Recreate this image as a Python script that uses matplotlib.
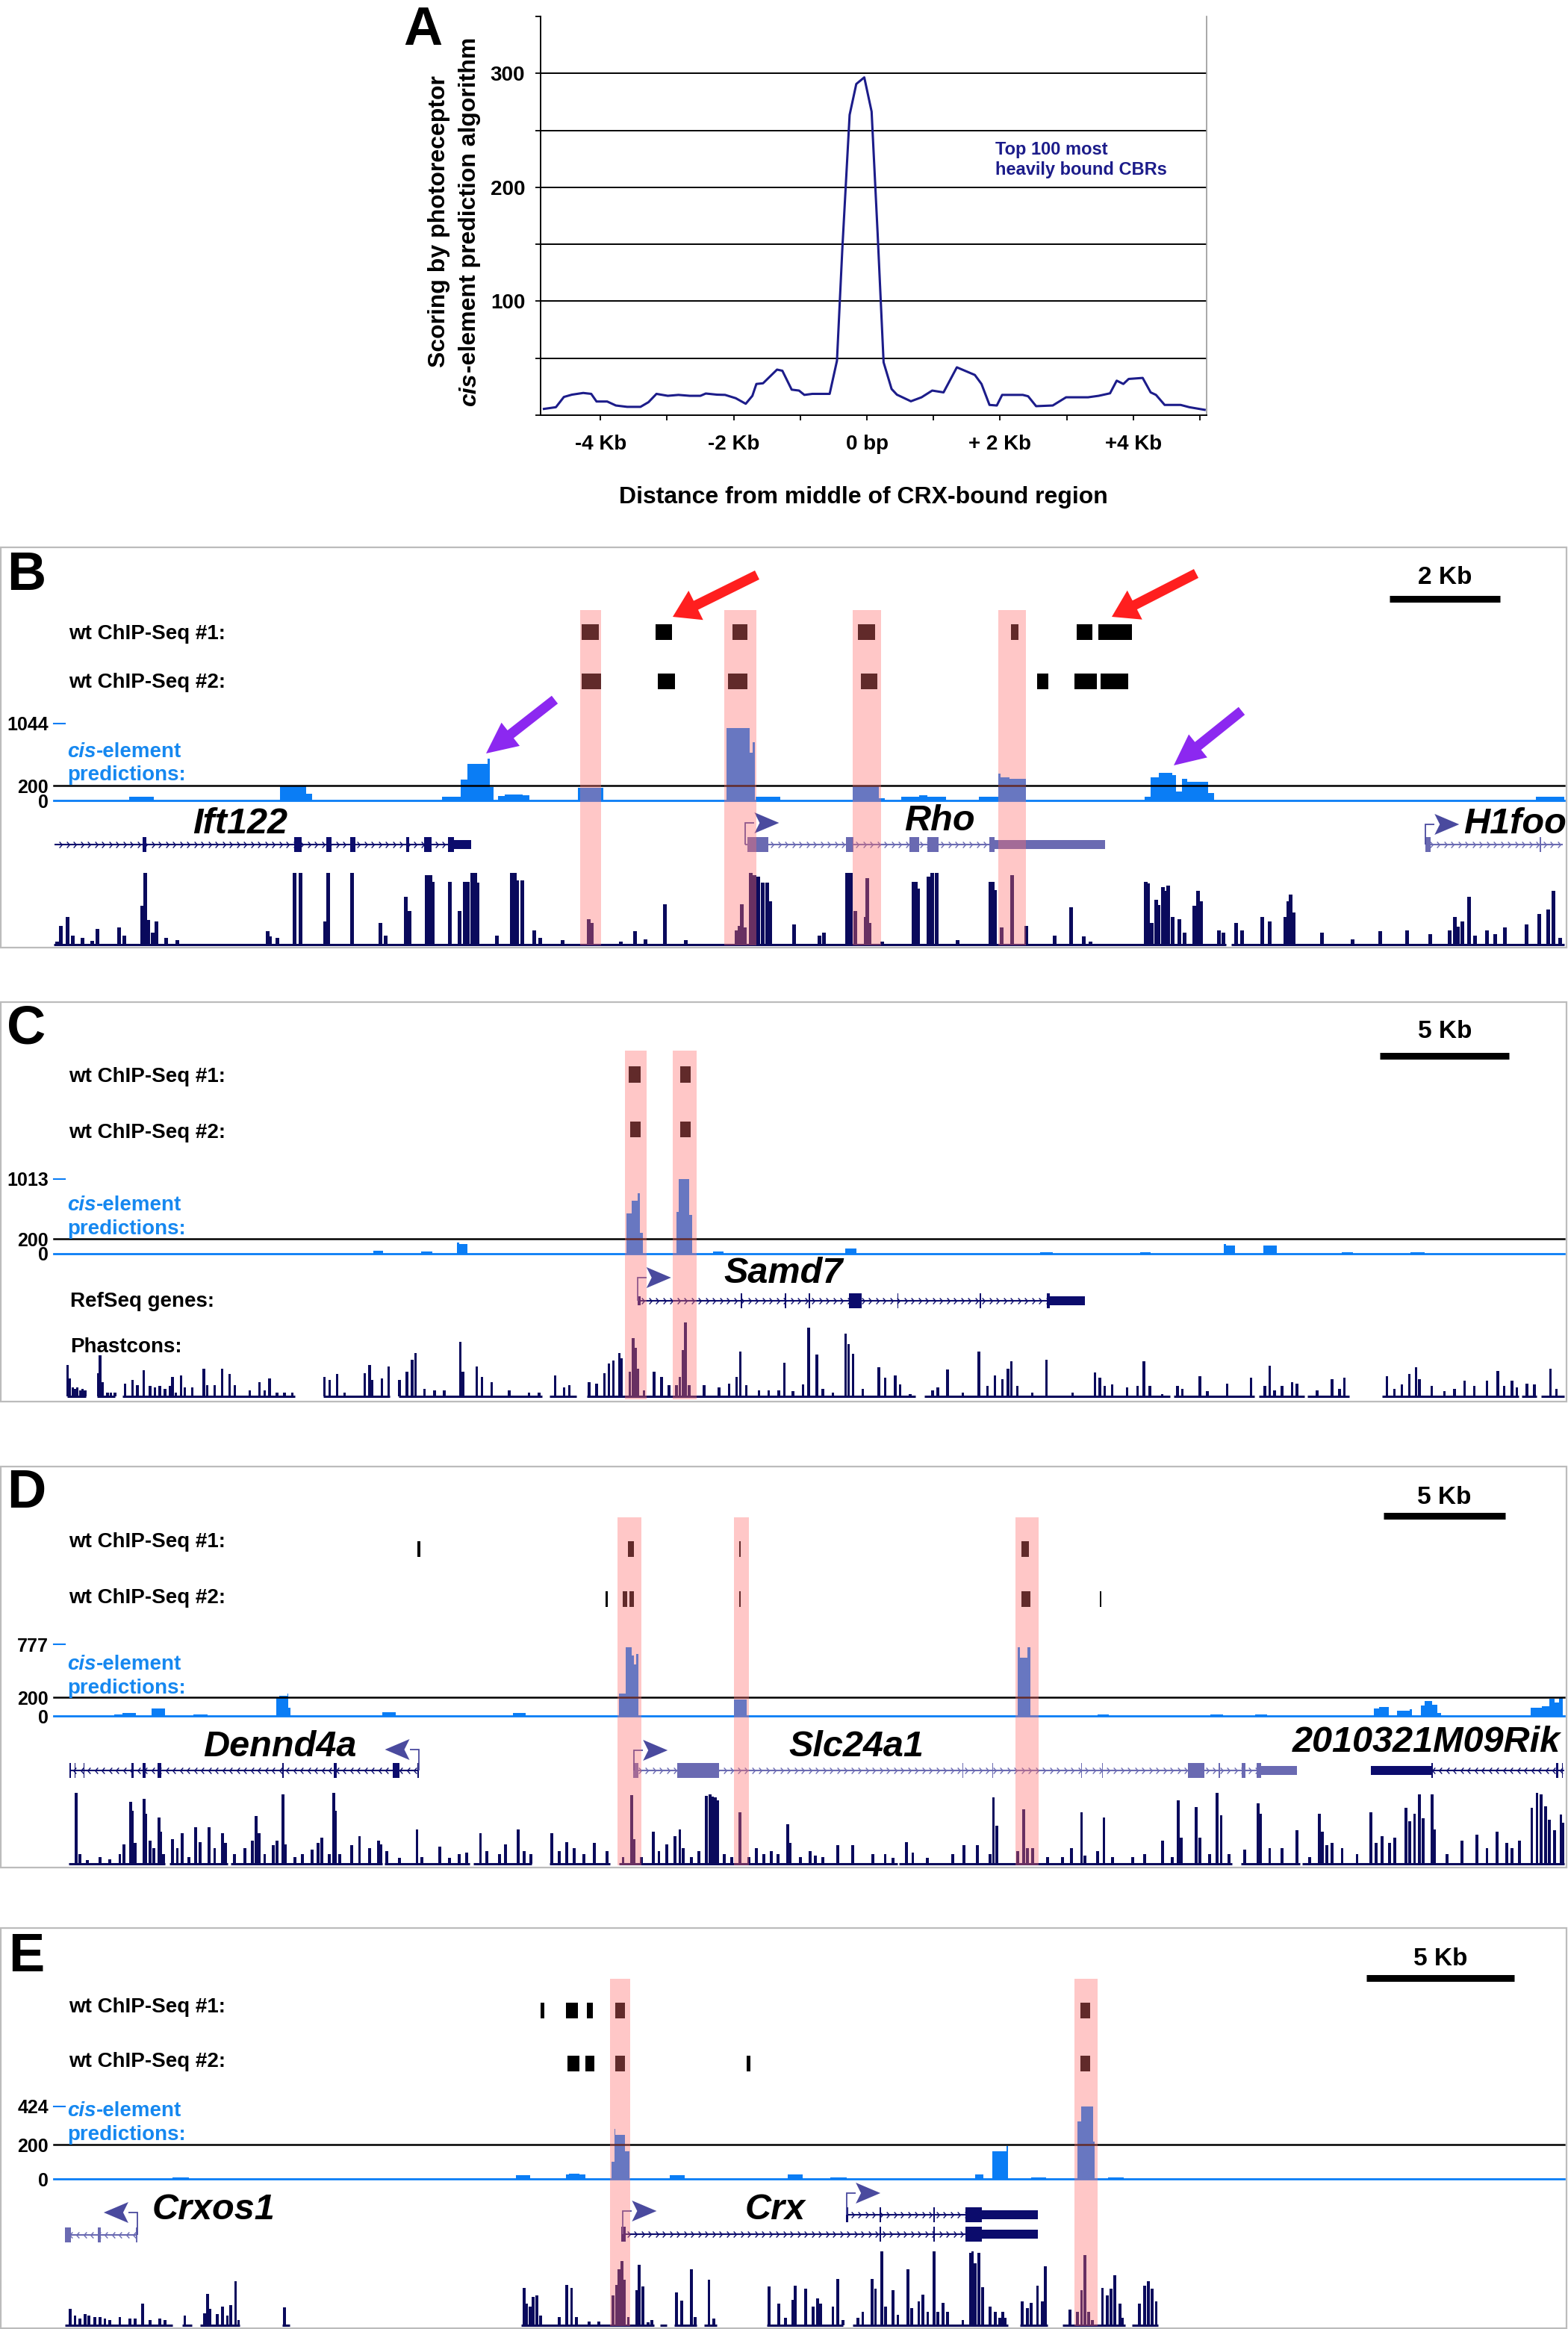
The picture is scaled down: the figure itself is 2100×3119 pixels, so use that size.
import numpy as np
import matplotlib
matplotlib.use("Agg")
import matplotlib.pyplot as plt
from matplotlib.path import Path
from matplotlib.patches import Rectangle, Polygon, FancyArrowPatch

plt.rcParams['font.family'] = ['Liberation Sans', 'DejaVu Sans']
plt.rcParams['font.weight'] = 'bold'
plt.rcParams['axes.unicode_minus'] = False

# ======================= DATA =======================
# ---- Panel A: profile of prediction score around CRX-bound regions ----
A_dist_kb = [-4.85, -4.67, -4.55, -4.43, -4.26, -4.14, -4.06, -3.9, -3.77, -3.6,
             -3.4, -3.28, -3.16, -2.99, -2.83, -2.66, -2.5, -2.42, -2.25, -2.13,
             -1.97, -1.82, -1.72, -1.66, -1.56, -1.35, -1.27, -1.13, -1.02, -0.94,
             -0.82, -0.56, -0.45, -0.37, -0.26, -0.16, -0.04, 0.07, 0.16, 0.25,
             0.37, 0.45, 0.66, 0.82, 0.98, 1.15, 1.35, 1.62, 1.72, 1.84,
             1.95, 2.03, 2.34, 2.42, 2.54, 2.79, 2.99, 3.32, 3.48, 3.65,
             3.75, 3.85, 3.93, 4.14, 4.26, 4.34, 4.47, 4.71, 4.84, 5.07]
A_score = [5.5, 7, 16, 18, 19.5, 18.7, 12, 12, 8.5, 7.3,
           7.3, 11.4, 18.7, 17, 17.8, 17, 17, 19, 18, 17.8,
           14.9, 10, 17, 27.4, 28, 40, 39, 22.4, 21.6, 17.8,
           18.7, 18.7, 47.8, 145.5, 263.6, 290.7, 296.5, 266.5, 160, 46.4,
           23, 18, 12.2, 15.7, 21.6, 20, 42, 35.3, 27.4, 9,
           8.5, 17.8, 17.8, 16.6, 7.9, 8.5, 15.7, 15.7, 17, 19.2,
           30.3, 27.4, 31.8, 32.7, 20, 17.8, 9, 9, 7, 4.7]
A_xtick_pos = [-4, -2, 0, 2, 4]
A_xtick_lab = ['-4 Kb', '-2 Kb', '0 bp', '+ 2 Kb', '+4 Kb']
A_ytick_pos = [100, 200, 300]

# ---- Panel B (kb from left edge of window) ----
B_span_kb = 27.45
B_scale_kb = 2
B_highlight = [(9.57, 9.95), (12.18, 12.77), (14.52, 15.03), (17.17, 17.67)]
B_chip1 = [(9.59, 9.91), (10.93, 11.23), (12.34, 12.60), (14.62, 14.93),
           (17.39, 17.53), (18.59, 18.88), (18.98, 19.59)]
B_chip2 = [(9.59, 9.95), (10.98, 11.29), (12.25, 12.60), (14.67, 14.96),
           (17.87, 18.08), (18.55, 18.95), (19.02, 19.53)]
B_cis_max = 1044
B_cis = [(1.37, 1.82, 53), (4.11, 4.59, 190), (4.59, 4.69, 95), (7.06, 7.40, 53),
         (7.40, 7.52, 280), (7.52, 7.89, 500), (7.89, 7.92, 570), (7.92, 7.99, 180),
         (8.07, 8.19, 60), (8.19, 8.52, 77), (8.52, 8.64, 70), (9.52, 9.99, 168),
         (12.23, 12.64, 983), (12.64, 12.70, 650), (12.70, 12.74, 790), (12.75, 13.20, 46),
         (14.52, 15.00, 193), (15.00, 15.10, 35), (15.40, 15.73, 46), (15.73, 15.87, 70),
         (15.87, 16.22, 46), (16.81, 17.17, 53), (17.17, 17.21, 362), (17.21, 17.37, 316),
         (17.37, 17.67, 291), (19.82, 19.93, 53), (19.93, 20.08, 316), (20.08, 20.32, 375),
         (20.32, 20.40, 340), (20.40, 20.50, 123), (20.50, 20.60, 298), (20.60, 20.98, 256),
         (20.98, 21.08, 105), (26.94, 27.46, 46)]
B_genes = [
    dict(name='Ift122', strand=1, span=(0.02, 7.57),
         exons=[(1.61, 1.68), (4.37, 4.50), (4.95, 5.05), (5.39, 5.48), (6.40, 6.46),
                (6.73, 6.86), (7.17, 7.27)], utr=[(7.27, 7.59)], tss=False),
    dict(name='Rho', strand=1, span=(12.57, 19.10),
         exons=[(12.60, 12.98), (14.39, 14.53), (15.55, 15.73), (15.87, 16.08), (17.00, 17.10)],
         utr=[(17.10, 19.10)], tss=True),
    dict(name='H1foo', strand=1, span=(24.93, 27.42),
         exons=[(24.92, 25.02), (27.00, 27.03)], utr=[], tss=True),
]
B_phast = [
    (0.06, .04), (0.13, .26), (0.25, .39), (0.34, .13), (0.52, .09), (0.70, .05), (0.80, .22),
    (1.19, .24), (1.28, .13), (1.61, .54), (1.66, 1.0), (1.72, .34), (1.80, .17), (1.87, .32),
    (2.04, .09), (2.25, .06), (3.89, .19), (3.93, .11), (4.07, .09), (4.37, 1.0), (4.48, 1.0),
    (4.93, .32), (4.99, 1.0), (5.42, 1.0), (5.93, .30), (6.03, .13), (6.40, .67), (6.46, .47),
    (6.78, .97), (6.84, .97), (6.88, .88), (7.20, .88), (7.38, .47), (7.47, .88), (7.52, .88),
    (7.60, 1.0), (7.66, 1.0), (7.70, .86), (8.05, .13), (8.33, 1.0), (8.38, 1.0), (8.42, .90),
    (8.51, .90), (8.73, .20), (8.84, .09), (9.25, .06), (9.72, .35), (9.77, .30), (10.30, .04),
    (10.57, .19), (10.75, .07), (11.10, .56), (11.48, .06), (12.41, .20), (12.46, .26),
    (12.50, .56), (12.56, .24), (12.67, 1.0), (12.73, .97), (12.80, .95), (12.88, .86),
    (12.97, .86), (13.02, .60), (13.46, .28), (13.92, .13), (13.99, .17), (14.42, 1.0),
    (14.48, 1.0), (14.56, .47), (14.75, .39), (14.79, .93), (14.82, .30), (15.05, .04),
    (15.62, .88), (15.66, .88), (15.71, .78), (15.90, .95), (15.97, 1.0), (16.05, 1.0),
    (16.42, .06), (17.02, .88), (17.06, .88), (17.11, .76), (17.23, .24), (17.42, .97),
    (17.67, .26), (18.19, .13), (18.49, .52), (18.72, .11), (18.84, .04), (19.84, .88),
    (19.88, .85), (19.95, .30), (20.03, .62), (20.08, .55), (20.15, .80), (20.20, .75),
    (20.25, .82), (20.33, .39), (20.46, .35), (20.55, .17), (20.72, .54), (20.80, .75),
    (20.85, .60), (21.17, .20), (21.26, .17), (21.49, .30), (21.60, .20), (21.96, .39),
    (22.10, .32), (22.38, .39), (22.44, .60), (22.48, .70), (22.53, .45), (23.05, .17),
    (23.60, .07), (24.11, .19), (24.60, .20), (25.01, .15), (25.37, .20), (25.46, .39),
    (25.52, .25), (25.60, .32), (25.72, .67), (25.83, .13), (26.05, .20), (26.20, .15),
    (26.37, .24), (26.77, .28), (27.00, .43), (27.16, .49), (27.26, .75), (27.37, .09)]
B_phast_base = [(0.0, 21.30), (21.40, 27.45)]

# ---- Panel C ----
C_span_kb = 58.56
C_scale_kb = 5
C_highlight = [(22.15, 22.98), (24.01, 24.92)]
C_chip1 = [(22.30, 22.75), (24.30, 24.69)]
C_chip2 = [(22.34, 22.75), (24.30, 24.69)]
C_cis_max = 1013
C_cis = [(12.40, 12.78, 40), (14.23, 14.68, 29), (15.63, 15.73, 154), (15.73, 16.05, 128),
         (22.21, 22.40, 550), (22.40, 22.63, 720), (22.63, 22.71, 820), (22.71, 22.85, 280),
         (24.14, 24.24, 564), (24.24, 24.63, 1013), (24.63, 24.74, 528), (25.56, 25.98, 29),
         (30.69, 31.13, 75), (38.24, 38.72, 25), (42.11, 42.53, 25), (45.36, 45.45, 136),
         (45.45, 45.78, 107), (46.90, 47.42, 107), (49.94, 50.37, 25), (52.61, 53.14, 25)]
C_genes = [
    dict(name='Samd7', strand=1, span=(22.63, 39.98),
         exons=[(26.63, 26.68), (28.35, 28.40), (29.26, 29.31), (30.84, 31.33), (32.70, 32.75),
                (35.89, 35.94), (38.49, 38.62)],
         utr=[(22.63, 22.75), (38.62, 39.98)], tss=True),
]
C_phast = [
    (0.53, .42), (0.63, .24), (0.73, .12), (0.82, .10), (0.92, .12), (1.02, .08), (1.11, .10),
    (1.21, .08), (1.73, .31), (1.79, .55), (1.89, .19), (2.08, .05), (2.22, .05), (2.37, .05),
    (2.76, .17), (3.05, .22), (3.24, .15), (3.49, .35), (3.73, .14), (3.92, .12), (4.11, .14),
    (4.31, .10), (4.50, .14), (4.60, .26), (4.73, .05), (4.93, .28), (5.08, .12), (5.37, .12),
    (5.82, .37), (5.95, .15), (6.24, .15), (6.53, .37), (6.82, .30), (7.02, .15), (7.60, .08),
    (7.98, .19), (8.18, .08), (8.37, .24), (8.66, .05), (8.95, .05), (9.24, .05), (10.50, .26),
    (10.69, .22), (10.98, .30), (11.27, .05), (12.05, .31), (12.24, .42), (12.34, .22),
    (12.72, .24), (12.98, .40), (13.40, .22), (13.69, .33), (13.89, .49), (14.02, .58),
    (14.37, .10), (14.76, .08), (15.14, .08), (15.76, .73), (15.86, .33), (16.40, .40),
    (16.60, .26), (16.98, .19), (17.66, .08), (18.43, .05), (18.82, .05), (19.44, .28),
    (19.79, .12), (19.98, .15), (20.76, .19), (21.05, .17), (21.34, .31), (21.53, .44),
    (21.69, .48), (21.92, .58), (22.02, .51), (22.34, .33), (22.46, .78), (22.56, .65),
    (22.65, .37), (22.89, .08), (23.27, .33), (23.56, .26), (23.85, .15), (24.14, .15),
    (24.28, .26), (24.40, .62), (24.49, .99), (24.63, .15), (25.21, .15), (25.79, .12),
    (26.18, .17), (26.47, .26), (26.62, .60), (26.85, .15), (27.34, .08), (27.72, .08),
    (28.11, .08), (28.33, .45), (28.66, .07), (29.04, .16), (29.27, .92), (29.58, .56),
    (29.82, .10), (30.20, .05), (30.69, .84), (30.82, .70), (30.98, .57), (31.37, .10),
    (31.99, .39), (32.24, .25), (32.62, .28), (32.82, .16), (33.20, .03), (34.07, .08),
    (34.27, .12), (34.65, .36), (35.24, .05), (35.87, .60), (36.20, .14), (36.49, .28),
    (36.78, .23), (37.00, .37), (37.13, .47), (37.36, .14), (37.94, .05), (38.49, .49),
    (39.49, .05), (40.36, .32), (40.56, .25), (40.75, .14), (41.04, .16), (41.62, .12),
    (42.01, .14), (42.26, .47), (42.49, .14), (42.98, .03), (43.56, .14), (43.75, .10),
    (44.43, .27), (44.72, .07), (45.49, .17), (46.42, .25), (46.95, .14), (47.14, .41),
    (47.33, .08), (47.62, .14), (48.01, .19), (48.20, .17), (48.98, .08), (49.56, .23),
    (49.85, .10), (50.04, .25), (51.69, .27), (51.98, .10), (52.27, .16), (52.56, .30),
    (52.81, .39), (52.95, .23), (53.43, .14), (53.91, .07), (54.30, .10), (54.69, .21),
    (55.07, .14), (55.56, .21), (55.98, .34), (56.23, .14), (56.53, .21), (56.72, .12),
    (57.11, .17), (57.40, .16), (58.03, .37), (58.26, .10)]
C_phast_base = [(0.53, 1.25), (1.69, 2.37), (2.66, 9.34), (10.46, 13.02), (13.36, 18.92),
                (19.21, 20.27), (20.66, 33.40), (33.74, 43.27), (43.42, 46.56), (46.71, 48.49),
                (48.59, 50.23), (51.49, 56.80), (56.90, 57.49), (57.65, 58.56)]

# ---- Panel D ----
D_span_kb = 61.95
D_scale_kb = 5
D_highlight = [(23.13, 24.11), (27.90, 28.51), (39.43, 40.39)]
D_chip1 = [(14.92, 15.04), (23.55, 23.80), (28.10, 28.18), (39.69, 39.98)]
D_chip2 = [(22.64, 22.72), (23.33, 23.52), (23.62, 23.80), (28.10, 28.18), (39.69, 40.06),
           (42.90, 42.97)]
D_cis_max = 777
D_cis = [(2.47, 2.82, 19), (2.82, 3.37, 33), (4.00, 4.56, 81), (5.74, 6.30, 19),
         (9.12, 9.26, 200), (9.26, 9.57, 220), (9.57, 9.63, 242), (9.63, 9.72, 89),
         (13.46, 14.04, 39), (18.83, 19.34, 33), (23.19, 23.45, 242), (23.45, 23.70, 742),
         (23.70, 23.80, 659), (23.80, 23.90, 562), (23.90, 23.97, 673), (27.90, 28.41, 178),
         (39.53, 39.63, 742), (39.63, 39.94, 631), (39.94, 40.04, 742), (42.80, 43.27, 19),
         (47.45, 47.97, 19), (49.26, 49.77, 19), (54.13, 54.37, 81), (54.37, 54.74, 97),
         (55.09, 55.60, 53), (55.60, 55.71, 75), (56.07, 56.22, 117), (56.22, 56.53, 158),
         (56.53, 56.73, 122), (56.73, 56.89, 35), (60.56, 61.03, 89), (61.03, 61.34, 108),
         (61.34, 61.54, 186), (61.54, 61.75, 145), (61.75, 61.89, 200)]
D_genes = [
    dict(name='Dennd4a', strand=-1, span=(0.63, 14.96),
         exons=[(0.63, 0.70), (0.85, 0.90), (1.22, 1.27), (3.17, 3.29), (3.64, 3.78),
                (4.27, 4.41), (9.37, 9.43), (11.48, 11.62), (13.90, 14.18), (14.90, 14.96)],
         utr=[], tss=True),
    dict(name='Slc24a1', strand=1, span=(23.80, 51.00),
         exons=[(23.77, 23.97), (25.58, 27.28), (37.26, 37.30), (38.49, 38.53), (42.13, 42.17),
                (42.99, 43.03), (46.51, 47.20), (47.78, 47.82), (48.72, 48.88), (49.32, 49.52)],
         utr=[(49.52, 51.00)], tss=True),
    dict(name='2010321M09Rik', strand=-1, span=(54.02, 61.95),
         exons=[(56.50, 56.56), (61.62, 61.70), (61.85, 61.90)],
         utr=[(54.02, 56.50)], tss=False),
]
D_phast = [
    (0.91, 1.0), (1.07, .14), (1.38, .05), (1.89, .10), (2.30, .06), (2.71, .14), (2.88, .27),
    (3.16, .87), (3.22, .75), (3.33, .29), (3.70, .92), (3.78, .71), (3.94, .33), (4.11, .22),
    (4.31, .65), (4.39, .45), (4.51, .14), (4.86, .35), (5.07, .22), (5.27, .43), (5.54, .10),
    (5.82, .52), (5.99, .31), (6.36, .52), (6.60, .22), (6.91, .43), (7.05, .29), (7.42, .14),
    (7.83, .22), (8.14, .33), (8.30, .67), (8.41, .43), (8.65, .14), (9.00, .26), (9.16, .33),
    (9.39, .98), (9.51, .27), (9.88, .10), (10.19, .14), (10.60, .20), (10.84, .29),
    (11.00, .37), (11.31, .14), (11.48, 1.0), (11.56, .75), (11.72, .14), (12.23, .26),
    (12.54, .39), (12.95, .22), (13.32, .33), (13.42, .27), (13.67, .18), (14.18, .08),
    (14.90, .48), (15.10, .10), (15.82, .24), (16.23, .08), (16.64, .14), (16.94, .16),
    (17.50, .43), (17.76, .18), (18.27, .14), (18.52, .27), (19.05, .48), (19.30, .18),
    (19.56, .14), (20.42, .43), (20.73, .18), (21.04, .31), (21.35, .22), (21.75, .14),
    (22.16, .29), (22.68, .18), (23.35, .10), (23.70, .97), (23.80, .35), (24.11, .10),
    (24.58, .45), (24.82, .18), (25.13, .27), (25.48, .39), (25.68, .48), (25.81, .22),
    (26.16, .10), (26.46, .18), (26.77, .96), (26.91, .98), (27.02, .95), (27.12, .94),
    (27.24, .90), (27.49, .14), (27.80, .10), (28.14, .73), (28.51, .10), (28.82, .22),
    (29.13, .14), (29.43, .18), (29.70, .14), (30.11, .56), (30.21, .29), (30.62, .10),
    (31.03, .18), (31.24, .12), (31.54, .10), (32.16, .26), (32.77, .26), (33.59, .14),
    (34.10, .14), (34.41, .08), (34.98, .31), (35.23, .16), (35.84, .08), (36.87, .14),
    (37.32, .26), (37.88, .26), (38.40, .14), (38.54, .94), (38.67, .54), (39.53, .18),
    (39.79, .77), (39.94, .22), (40.14, .22), (40.76, .10), (41.37, .10), (41.74, .22),
    (42.15, .73), (42.30, .12), (42.81, .18), (43.07, .65), (43.42, .10), (44.24, .10),
    (44.75, .14), (45.47, .33), (45.88, .10), (46.12, .90), (46.24, .37), (46.86, .80),
    (47.00, .37), (47.41, .14), (47.72, 1.0), (47.88, .68), (48.19, .14), (48.85, .20),
    (49.40, .85), (49.50, .71), (49.87, .22), (50.38, .22), (50.99, .47), (51.50, .10),
    (51.91, .71), (52.02, .45), (52.22, .26), (52.43, .29), (52.84, .22), (53.45, .14),
    (54.03, .73), (54.23, .29), (54.48, .39), (54.78, .29), (54.99, .37), (55.46, .79),
    (55.60, .60), (55.81, .71), (56.01, .98), (56.16, .64), (56.53, .98), (56.63, .48),
    (57.14, .14), (57.75, .33), (58.37, .41), (58.78, .22), (59.19, .45), (59.60, .29),
    (59.80, .22), (60.11, .33), (60.62, .79), (60.83, 1.0), (60.99, .98), (61.19, .81),
    (61.34, .62), (61.54, .47), (61.81, .69), (61.89, .58)]
D_phast_base = [(0.62, 4.56), (4.76, 7.12), (7.26, 13.46), (13.56, 17.05), (17.21, 19.60),
                (20.32, 22.82), (23.19, 34.61), (34.67, 48.33), (48.70, 51.10), (51.20, 61.95)]

# ---- Panel E ----
E_span_kb = 51.16
E_scale_kb = 5
E_highlight = [(18.84, 19.52), (34.56, 35.35)]
E_chip1 = [(16.49, 16.61), (17.34, 17.75), (18.05, 18.25), (19.01, 19.35), (34.76, 35.10)]
E_chip2 = [(17.41, 17.80), (18.00, 18.31), (19.01, 19.35), (23.46, 23.60), (34.76, 35.10)]
E_cis_max = 424
E_cis = [(4.02, 4.57, 9), (15.65, 16.14, 20), (17.34, 17.46, 28), (17.46, 17.80, 31),
         (17.80, 18.00, 28), (18.90, 18.98, 100), (18.98, 19.03, 291), (19.03, 19.35, 257),
         (19.35, 19.49, 162), (20.87, 21.38, 24), (24.87, 25.37, 25), (26.30, 26.86, 9),
         (31.21, 31.49, 28), (31.80, 32.27, 162), (32.27, 32.32, 194), (33.10, 33.61, 9),
         (34.67, 34.79, 335), (34.79, 35.21, 424), (35.21, 35.26, 217), (35.72, 36.25, 9)]
E_genes = [
    dict(name='Crxos1', strand=-1, span=(0.38, 2.83),
         exons=[(0.38, 0.58), (1.48, 1.60), (2.79, 2.83)], utr=[], tss=True),
    dict(name='Crx', strand=1, span=(19.28, 33.32),
         exons=[(19.23, 19.37), (27.97, 28.02), (29.80, 29.85), (30.87, 31.43)],
         utr=[(31.43, 33.32)], tss=True),
    dict(name='Crx.2', strand=1, span=(26.86, 33.32),
         exons=[(26.84, 26.90), (27.97, 28.02), (29.80, 29.85), (30.87, 31.43)],
         utr=[(31.43, 33.32)], tss=True),
]
E_phast = [
    (0.55, .22), (0.72, .13), (0.89, .09), (1.06, .15), (1.19, .13), (1.39, .11), (1.56, .11),
    (1.73, .09), (1.90, .07), (2.24, .11), (2.58, .09), (2.75, .09), (3.00, .29), (3.26, .07),
    (3.59, .09), (3.76, .07), (4.44, .13), (5.11, .16), (5.20, .42), (5.28, .22), (5.54, .15),
    (5.71, .25), (5.88, .13), (6.00, .27), (6.16, .60), (6.26, .07), (7.82, .24), (15.94, .51),
    (16.02, .29), (16.14, .25), (16.24, .38), (16.36, .40), (16.48, .13), (17.12, .11),
    (17.37, .55), (17.54, .51), (17.71, .11), (18.14, .05), (18.47, .05), (18.95, .40),
    (19.07, .55), (19.15, .76), (19.24, .87), (19.32, .62), (19.46, .11), (19.74, .47),
    (19.83, .82), (19.96, .53), (20.13, .04), (20.25, .07), (21.09, .44), (21.26, .33),
    (21.60, .76), (21.72, .11), (22.19, .62), (22.36, .09), (24.22, .53), (24.56, .29),
    (24.78, .10), (25.04, .34), (25.12, .54), (25.46, .49), (25.71, .25), (25.88, .36),
    (25.97, .29), (26.39, .25), (26.56, .63), (26.73, .07), (27.23, .10), (27.40, .18),
    (27.71, .63), (27.83, .49), (28.05, 1.0), (28.17, .25), (28.42, .47), (28.59, .14),
    (28.93, .76), (29.06, .23), (29.30, .32), (29.43, .41), (29.60, .18), (29.82, 1.0),
    (29.94, .18), (30.11, .30), (30.28, .18), (30.79, .07), (31.04, .98), (31.12, 1.0),
    (31.21, .84), (31.33, .98), (31.46, .52), (31.72, .25), (31.88, .18), (32.05, .10),
    (32.14, .18), (32.22, .10), (32.81, .32), (32.98, .23), (33.10, .30), (33.32, .54),
    (33.49, .32), (33.58, .80), (34.42, .21), (34.67, .18), (34.81, .47), (34.93, .95),
    (35.05, .18), (35.18, .07), (35.52, .51), (35.69, .40), (35.81, .49), (35.94, .68),
    (36.11, .29), (36.20, .10), (36.78, .29), (36.95, .54), (37.07, .60), (37.21, .49),
    (37.34, .32)]
E_phast_base = [(0.38, 4.02), (4.35, 4.69), (4.95, 6.30), (7.74, 7.99), (15.82, 20.33),
                (20.54, 20.76), (21.01, 21.77), (22.02, 22.45), (24.14, 26.73), (27.06, 32.31),
                (32.73, 33.66), (34.17, 36.28), (36.53, 37.41)]

# ======================= STYLE / LAYOUT =======================
W, H = 2100, 3119
NAVY_A = '#1c1c8a'
PH_NAVY = '#0a0a5c'
GENE_DARK = '#0c0c6c'
GENE_LIGHT = '#6a6ab2'
ARROW_HEAD = '#4a4a9e'
CIS_BLUE = '#0a7df5'
LBL_BLUE = '#1688f0'
HL_RGB = (1.0, 0.43, 0.43)
HL_ALPHA = 0.385
FRAME = '#bcbcbc'
TX0, TX1 = 72, 2095

PANEL_LAYOUT = {
    'B': dict(top=733, bottom=1269, letter_y=38, chip_rows=(113.5, 179.5), chip_lbl=(115.5, 181),
              cis=(236, 339), cis_lbl=(271, 302), gene_y=398, phast=(436, 532), hl_top=84,
              sb_y=69, sb_lbl=41, sb_x0=24.28, phast_w=5.0, extra=[]),
    'C': dict(top=1342, bottom=1877, letter_y=37, chip_rows=(97, 170.5), chip_lbl=(100, 175),
              cis=(237, 337), cis_lbl=(269, 301), gene_y=400, phast=(428, 528), hl_top=65,
              sb_y=72, sb_lbl=40, sb_x0=51.42, phast_w=3.4,
              extra=[('RefSeq genes:', 401), ('Phastcons:', 462)]),
    'D': dict(top=1964, bottom=2501, letter_y=36, chip_rows=(110, 177.5), chip_lbl=(101, 176),
              cis=(238, 334), cis_lbl=(262, 294), gene_y=407, phast=(437, 532), hl_top=68,
              sb_y=66, sb_lbl=42, sb_x0=54.54, phast_w=3.8, extra=[]),
    'E': dict(top=2582, bottom=3118, letter_y=39, chip_rows=(110, 181.5), chip_lbl=(106, 179),
              cis=(239, 336), cis_lbl=(242, 274), gene_y=410, phast=(433, 532), hl_top=68,
              sb_y=67, sb_lbl=41, sb_x0=44.47, phast_w=3.8, extra=[]),
}
GENE_LAYOUT = {
    'Ift122': dict(dark=True, row=0, label=(3.39, -27), arrow_dy=None),
    'Rho': dict(dark=False, row=0, label=(16.1, -31), arrow_dy=-29),
    'H1foo': dict(dark=False, row=0, label=(26.55, -27), arrow_dy=-27),
    'Samd7': dict(dark=True, row=0, label=(28.27, -36), arrow_dy=-31),
    'Dennd4a': dict(dark=True, row=0, label=(9.26, -32), arrow_dy=-28),
    'Slc24a1': dict(dark=False, row=0, label=(32.92, -31), arrow_dy=-27),
    '2010321M09Rik': dict(dark=True, row=0, label=(56.3, -38), arrow_dy=None),
    'Crxos1': dict(dark=False, row=1, label=(5.42, -34), arrow_dy=-30),
    'Crx': dict(dark=True, row=0, label=(24.44, -32), arrow_dy=-31),
    'Crx.2': dict(dark=True, row=-26, label=None, arrow_dy=-29),
}
B_ARROWS = [('#ff1f1f', (1014, 770), (901, 826), 0.83, 1.05, 0.32),
            ('#ff1f1f', (1602, 768), (1489, 826), 0.83, 1.05, 0.32),
            ('#8c28f0', (743, 937), (651, 1009), 1.0, 0.95, 0.32),
            ('#8c28f0', (1663, 952), (1572, 1025), 1.0, 0.95, 0.32)]

CHEV_R = Path([(-0.45, 1.0), (0.45, 0.0), (-0.45, -1.0)], [Path.MOVETO, Path.LINETO, Path.LINETO])
CHEV_L = Path([(0.45, 1.0), (-0.45, 0.0), (0.45, -1.0)], [Path.MOVETO, Path.LINETO, Path.LINETO])

fig = plt.figure(figsize=(W / 100, H / 100), dpi=100, facecolor='white')


def fx(px):
    return px / W


def fy(py):
    return 1.0 - py / H


def add_ax(x0, y0, x1, y1):
    ax = fig.add_axes([fx(x0), fy(y1), (x1 - x0) / W, (y1 - y0) / H])
    ax.set_facecolor('none')
    return ax


def run_text(x_px, y_px, runs, size, color, rotation=0):
    """Place text pieces with different styles one after another (centred on y_px)."""
    r = fig.canvas.get_renderer()
    widths = []
    for s, st in runs:
        t = fig.text(0, 0, s, fontsize=size, fontstyle=st)
        widths.append(t.get_window_extent(r).width)
        t.remove()
    cap = 0.72 * size * 100 / 72.0
    total = sum(widths)
    if rotation == 0:
        x = x_px
        for (s, st), w in zip(runs, widths):
            fig.text(fx(x), fy(y_px + cap / 2), s, fontsize=size, fontstyle=st, color=color,
                     ha='left', va='baseline')
            x += w
    else:
        y = y_px + total / 2
        for (s, st), w in zip(runs, widths):
            fig.text(fx(x_px + cap / 2), fy(y), s, fontsize=size, fontstyle=st, color=color,
                     rotation=90, rotation_mode='anchor', ha='left', va='baseline')
            y -= w


# ======================= PANEL A =======================
axA = add_ax(724, 22, 1616, 556)
axA.set_xlim(-4.9, 5.1)
axA.set_ylim(0, 350)
for v in np.arange(50, 301, 50):
    axA.axhline(v, color='black', lw=1.4, zorder=1)
axA.plot(A_dist_kb, A_score, color=NAVY_A, lw=2.2, zorder=3)
yt = np.arange(0, 351, 50)
axA.set_yticks(yt)
axA.set_yticklabels([str(v) if v in A_ytick_pos else '' for v in yt], fontsize=20)
xt = np.arange(-4, 6, 1)
axA.set_xticks(xt)
xlab = dict(zip(A_xtick_pos, A_xtick_lab))
axA.set_xticklabels([xlab.get(int(v), '') for v in xt], fontsize=20)
axA.tick_params(axis='both', direction='out', length=5, width=1.3, color='black')
axA.tick_params(axis='x', pad=14)
axA.tick_params(axis='y', pad=10)
axA.spines['top'].set_visible(False)
axA.spines['right'].set_color('#9a9a9a')
axA.spines['right'].set_linewidth(1.2)
for s in ('left', 'bottom'):
    axA.spines[s].set_linewidth(1.4)
axA.text(1.93, 233, 'Top 100 most', color=NAVY_A, fontsize=17, ha='left', va='center')
axA.text(1.93, 215, 'heavily bound CBRs', color=NAVY_A, fontsize=17, ha='left', va='center')

fig.text(fx(566), fy(41), 'A', fontsize=52, ha='center', va='center')
fig.text(fx(588), fy(297), 'Scoring by photoreceptor', fontsize=23, rotation=90,
         ha='center', va='center')
run_text(626, 297, [('cis', 'italic'), ('-element prediction algorithm', 'normal')], 23,
         'black', rotation=90)
fig.text(fx(1156), fy(666), 'Distance from middle of CRX-bound region', fontsize=23,
         ha='center', va='center')


# ======================= BROWSER PANELS =======================
def draw_panel(letter, L, span_kb, scale_kb, hls, chip1, chip2, cis_max, cis, genes,
               phast, phast_base):
    top, bot = L['top'], L['bottom']
    ppk = (TX1 - TX0) / span_kb

    fig.add_artist(Rectangle((fx(1), fy(bot)), (W - 3) / W, (bot - top) / H,
                             transform=fig.transFigure, fill=False, edgecolor=FRAME, lw=1.6))
    fig.text(fx(35), fy(top + L['letter_y']), letter, fontsize=52, ha='center', va='center')

    def tax(r0, r1):
        ax = add_ax(TX0, top + r0, TX1, top + r1)
        ax.set_xlim(0, span_kb)
        ax.axis('off')
        return ax

    # scale bar
    axb = tax(0, 90)
    axb.set_ylim(90, 0)
    axb.plot([L['sb_x0'], L['sb_x0'] + scale_kb], [L['sb_y'], L['sb_y']], color='black',
             lw=6.5, solid_capstyle='butt')
    axb.text(L['sb_x0'] + scale_kb / 2, L['sb_lbl'], f'{scale_kb} Kb', fontsize=24,
             ha='center', va='center')

    # ChIP-seq peaks
    r1, r2 = L['chip_rows']
    s = r2 - r1
    axc = tax(r1 - s / 2, r2 + s / 2)
    axc.set_ylim(2.5, 0.5)
    hh = 10.5 / s
    for row, peaks in ((1, chip1), (2, chip2)):
        axc.broken_barh([(a, b - a) for a, b in peaks], (row - hh, 2 * hh),
                        facecolor='black', edgecolor='none')
    fig.text(fx(92), fy(top + L['chip_lbl'][0]), 'wt ChIP-Seq #1:', fontsize=20,
             ha='left', va='center')
    fig.text(fx(92), fy(top + L['chip_lbl'][1]), 'wt ChIP-Seq #2:', fontsize=20,
             ha='left', va='center')

    # cis-element predictions
    c_top, c_zero = L['cis']
    axs = add_ax(TX0, top + c_top, TX1, top + c_zero)
    axs.set_xlim(0, span_kb)
    axs.set_ylim(0, cis_max)
    for sp in axs.spines.values():
        sp.set_visible(False)
    axs.set_xticks([])
    axs.bar([a for a, b, v in cis], [v for a, b, v in cis], width=[b - a for a, b, v in cis],
            align='edge', color=CIS_BLUE, lw=0)
    axs.axhline(200, color='black', lw=1.8, clip_on=False, zorder=4)
    axs.axhline(0, color=CIS_BLUE, lw=2.0, clip_on=False, zorder=4)
    axs.set_yticks([0, 200, cis_max])
    axs.set_yticklabels(['0', '200', str(cis_max)], fontsize=18)
    axs.tick_params(axis='y', length=0, pad=5)
    axs.plot([0, 15 / (TX1 - TX0)], [cis_max, cis_max], transform=axs.get_yaxis_transform(),
             color=CIS_BLUE, lw=1.5, clip_on=False)
    run_text(90, top + L['cis_lbl'][0], [('cis', 'italic'), ('-element', 'normal')], 20, LBL_BLUE)
    run_text(90, top + L['cis_lbl'][1], [('predictions:', 'normal')], 20, LBL_BLUE)

    # genes
    gy = L['gene_y']
    axg = tax(gy - 75, gy + 35)
    axg.set_ylim(35, -75)
    for g in genes:
        lay = GENE_LAYOUT[g['name']]
        col = GENE_DARK if lay['dark'] else GENE_LIGHT
        y0 = lay['row']
        a, b = g['span']
        axg.plot([a, b], [y0, y0], color=col, lw=1.5, solid_capstyle='butt')
        step = 9.5 / ppk
        cx = np.arange(a + step * 0.8, b - step * 0.3, step)
        axg.plot(cx, np.full(len(cx), y0), ls='none',
                 marker=CHEV_R if g['strand'] > 0 else CHEV_L, ms=5.8, mfc='none',
                 mec=col, mew=1.0)
        for e0, e1 in g['exons']:
            axg.add_patch(Rectangle((e0, y0 - 10.3), e1 - e0, 20.6, facecolor=col, lw=0))
        for u0, u1 in g['utr']:
            axg.add_patch(Rectangle((u0, y0 - 6), u1 - u0, 12, facecolor=col, lw=0))
        if g['tss'] and lay['arrow_dy'] is not None:
            sd = g['strand']
            x = a if sd > 0 else b
            ya = y0 + lay['arrow_dy']
            x1 = x + sd * 12 / ppk
            axg.plot([x, x, x1], [y0, ya, ya], color=ARROW_HEAD, lw=1.3,
                     solid_capstyle='butt', solid_joinstyle='miter')
            ln, notch = 33 / ppk, 7 / ppk
            poly = [(x1, ya - 14), (x1 + sd * ln, ya), (x1, ya + 14), (x1 + sd * notch, ya)]
            axg.add_patch(Polygon(poly, closed=True, facecolor=ARROW_HEAD, edgecolor='none'))
        if lay['label'] is not None:
            lx, ldy = lay['label']
            axg.text(lx, y0 + ldy, g['name'].split('.')[0], fontsize=35, fontstyle='italic',
                     ha='center', va='center', color='black')

    # phastcons
    p_top, p_base = L['phast']
    axp = tax(p_top, p_base)
    axp.set_ylim(0, 1)
    axp.bar([p for p, h in phast], [h for p, h in phast], width=L['phast_w'] / ppk,
            color=PH_NAVY, lw=0)
    axp.hlines(np.zeros(len(phast_base)), [a for a, b in phast_base],
               [b for a, b in phast_base], color=PH_NAVY, lw=2.2, clip_on=False)

    for txt, ry in L['extra']:
        fig.text(fx(94), fy(top + ry), txt, fontsize=20, ha='left', va='center')

    # highlighted CRX-bound regions (translucent overlay on top of all tracks)
    axh = tax(L['hl_top'], (bot - top) - 3)
    axh.set_ylim(0, 1)
    for a, b in hls:
        axh.axvspan(a, b, color=HL_RGB, alpha=HL_ALPHA, lw=0)


draw_panel('B', PANEL_LAYOUT['B'], B_span_kb, B_scale_kb, B_highlight, B_chip1, B_chip2,
           B_cis_max, B_cis, B_genes, B_phast, B_phast_base)
draw_panel('C', PANEL_LAYOUT['C'], C_span_kb, C_scale_kb, C_highlight, C_chip1, C_chip2,
           C_cis_max, C_cis, C_genes, C_phast, C_phast_base)
draw_panel('D', PANEL_LAYOUT['D'], D_span_kb, D_scale_kb, D_highlight, D_chip1, D_chip2,
           D_cis_max, D_cis, D_genes, D_phast, D_phast_base)
draw_panel('E', PANEL_LAYOUT['E'], E_span_kb, E_scale_kb, E_highlight, E_chip1, E_chip2,
           E_cis_max, E_cis, E_genes, E_phast, E_phast_base)

for col, tail, tip, hl, hw, tw in B_ARROWS:
    fig.add_artist(FancyArrowPatch(
        posA=(fx(tail[0]), fy(tail[1])), posB=(fx(tip[0]), fy(tip[1])),
        transform=fig.transFigure,
        arrowstyle=f'simple,head_length={hl},head_width={hw},tail_width={tw}',
        mutation_scale=30, color=col, shrinkA=0, shrinkB=0, lw=0))

fig.savefig('out.png', dpi=100, facecolor='white')
